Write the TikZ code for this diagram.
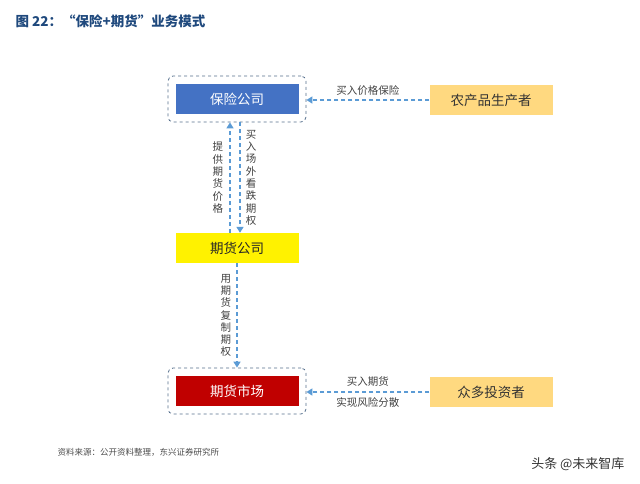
\documentclass[tikz,border=0pt]{standalone}
\usepackage{fontspec}
\setmainfont{Noto Sans CJK SC}
\usetikzlibrary{positioning, arrows.meta}
\definecolor{arrowblue}{RGB}{91,155,213}
\definecolor{framegray}{RGB}{84,110,140}
\definecolor{insblue}{RGB}{68,114,196}
\definecolor{mktred}{RGB}{192,0,0}
\definecolor{farmyellow}{RGB}{255,217,128}
\definecolor{titleblue}{RGB}{31,73,125}
\tikzset{
    boxnode/.style = {rectangle, minimum width=123pt, minimum height=30pt, inner sep=0pt, font=\fontsize{13.5}{13.5}\selectfont},
    framenode/.style = {draw=framegray, dashed, thick, rounded corners=5pt, minimum width=138pt, minimum height=46pt},
    labelnode/.style = {font=\fontsize{10.5}{10.5}\selectfont, text=black!75, inner sep=1pt},
    vlabelnode/.style = {labelnode, align=center, font=\fontsize{10.5}{12.3}\selectfont},
    connect/.style = {arrowblue, line width=1.6pt, dash pattern=on 4pt off 3pt, -{Triangle[length=6pt,width=7pt]}}
}
\begin{document}
\begin{tikzpicture}[x=1pt, y=-1pt]
    \useasboundingbox (0,0) rectangle (640,483);
    \node [anchor=west, text=titleblue, font=\bfseries\fontsize{13.5}{13.5}\selectfont, name=title] at (12,21) {图 22：“保险+期货”业务模式};

    \node [framenode, name=insframe] at (237,99) {};
    \node [boxnode, fill=insblue, text=white, name=ins] at (237,99) {保险公司};
    \node [boxnode, fill=farmyellow, text=black!80, name=farm] at (491,100) {农产品生产者};
    \node [boxnode, fill=yellow, text=black!85, name=fut] at (237,248) {期货公司};
    \node [framenode, name=mktframe] at (237,391) {};
    \node [boxnode, fill=mktred, text=white, name=mkt] at (237,391) {期货市场};
    \node [boxnode, fill=farmyellow, text=black!80, name=inv] at (491,392) {众多投资者};

    \draw [connect] (farm.west) -- node[labelnode, above=3pt] {买入价格保险} (insframe.east |- farm.west);
    \draw [connect] (inv.west) -- node[labelnode, above=4pt] {买入期货} node[labelnode, below=4pt] {实现风险分散} (mktframe.east |- inv.west);
    \draw [connect] ([xshift=-7pt]fut.north) -- node[vlabelnode, left=5pt] {提\\供\\期\\货\\价\\格} ([xshift=-7pt]insframe.south);
    \draw [connect] ([xshift=3pt]insframe.south) -- node[vlabelnode, right=4pt] {买\\入\\场\\外\\看\\跌\\期\\权} ([xshift=3pt]fut.north);
    \draw [connect] (fut.south) -- node[vlabelnode, left=4pt] {用\\期\\货\\复\\制\\期\\权} (mktframe.north);

    \node [anchor=west, font=\itshape\fontsize{8.5}{8.5}\selectfont, text=black!70, name=source] at (54,452) {资料来源：公开资料整理，东兴证券研究所};
    \node [anchor=east, font=\fontsize{13}{13}\selectfont, text=black!80, name=mark] at (628,464) {头条 @未来智库};
\end{tikzpicture}
\end{document}
